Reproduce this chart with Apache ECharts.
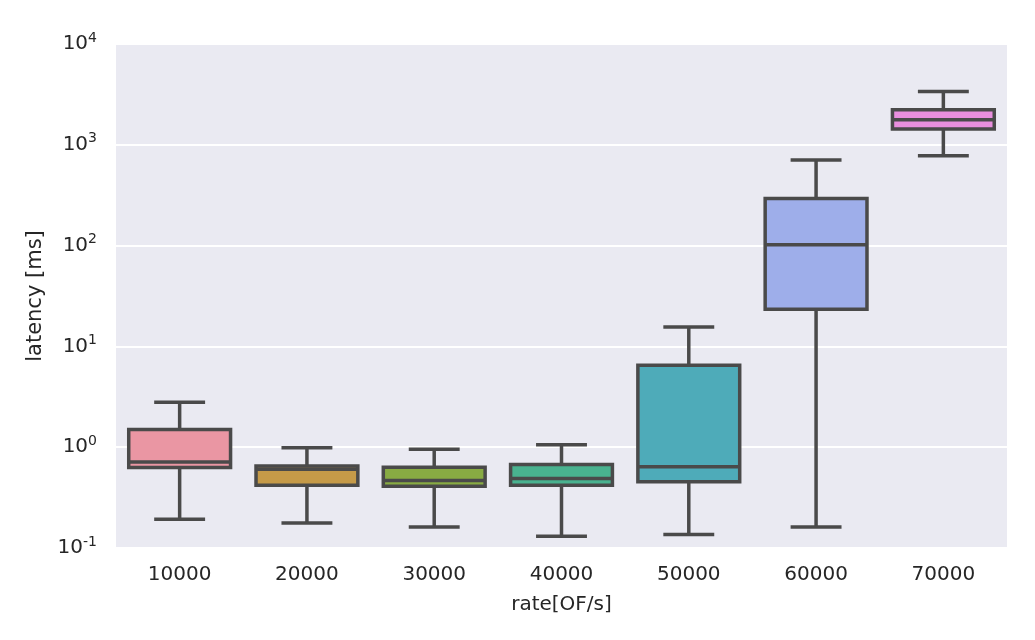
<!DOCTYPE html>
<html>
<head>
<meta charset="utf-8">
<script src="https://cdn.jsdelivr.net/npm/echarts@6/dist/echarts.min.js"></script>
<style>
  html, body { margin: 0; padding: 0; background: #fff; }
  #main { width: 1035px; height: 640px; }
</style>
</head>
<body>
<div id="main"></div>
<script>
const categories = ['10000', '20000', '30000', '40000', '50000', '60000', '70000'];
const whiskerLow = [0.193, 0.177, 0.162, 0.131, 0.136, 0.162, 780];
const q1 = [0.629, 0.42, 0.41, 0.42, 0.453, 23.3, 1438];
const median = [0.715, 0.605, 0.467, 0.489, 0.638, 102, 1770];
const q3 = [1.50, 0.65, 0.634, 0.673, 6.5, 294, 2230];
const whiskerHigh = [2.79, 0.99, 0.955, 1.06, 15.6, 705, 3373];
const yTicks = [-1, 0, 1, 2, 3, 4];

const palette = ['#ea96a3', '#c59a48', '#88ab43', '#49b28f', '#4eabb9', '#9eaeea', '#e98fde'];
const edge = '#4a4a4a';

const chart = echarts.init(document.getElementById('main'));

const boxData = categories.map((c, i) => [i, whiskerLow[i], q1[i], median[i], q3[i], whiskerHigh[i]]);

function renderBox(params, api) {
  const i = api.value(0);
  const band = api.size([1, 0])[0];
  const half = band * 0.4;
  const cap = band * 0.2;
  const pLow = api.coord([i, api.value(1)]);
  const pQ1 = api.coord([i, api.value(2)]);
  const pMed = api.coord([i, api.value(3)]);
  const pQ3 = api.coord([i, api.value(4)]);
  const pHigh = api.coord([i, api.value(5)]);
  const x = pMed[0];
  const lineStyle = { stroke: edge, lineWidth: 3.5, fill: null };
  return {
    type: 'group',
    children: [
      { type: 'line', shape: { x1: x, y1: pQ1[1], x2: x, y2: pLow[1] }, style: lineStyle },
      { type: 'line', shape: { x1: x, y1: pQ3[1], x2: x, y2: pHigh[1] }, style: lineStyle },
      { type: 'line', shape: { x1: x - cap, y1: pLow[1], x2: x + cap, y2: pLow[1] }, style: lineStyle },
      { type: 'line', shape: { x1: x - cap, y1: pHigh[1], x2: x + cap, y2: pHigh[1] }, style: lineStyle },
      {
        type: 'rect',
        shape: { x: x - half, y: pQ3[1], width: half * 2, height: pQ1[1] - pQ3[1] },
        style: { fill: palette[i], stroke: edge, lineWidth: 3.5 }
      },
      { type: 'line', shape: { x1: x - half, y1: pMed[1], x2: x + half, y2: pMed[1] }, style: lineStyle }
    ]
  };
}

const option = {
  animation: false,
  backgroundColor: '#fff',
  textStyle: { fontFamily: 'DejaVu Sans' },
  grid: {
    left: 116, right: 28, top: 44, bottom: 92,
    show: true, backgroundColor: '#eaeaf2', borderWidth: 0
  },
  xAxis: {
    type: 'category',
    data: categories,
    name: 'rate[OF/s]',
    nameLocation: 'middle',
    nameGap: 47,
    nameTextStyle: { fontSize: 20, color: '#262626', fontFamily: 'DejaVu Sans' },
    axisLine: { show: false },
    axisTick: { show: false },
    splitLine: { show: false },
    axisLabel: { fontSize: 20, color: '#262626', margin: 17, fontFamily: 'DejaVu Sans' }
  },
  yAxis: {
    type: 'log',
    logBase: 10,
    min: 0.1,
    max: 10000,
    name: 'latency [ms]',
    nameLocation: 'middle',
    nameGap: 70,
    nameTextStyle: { fontSize: 21, color: '#262626', fontFamily: 'DejaVu Sans' },
    axisLine: { show: false },
    axisTick: { show: false },
    splitLine: { show: true, lineStyle: { color: '#ffffff', width: 2 } },
    axisLabel: {
      margin: 19,
      color: '#262626',
      formatter: function (v) {
        const e = Math.round(Math.log10(v));
        return yTicks.indexOf(e) >= 0 ? '{b|10}{s|' + e + '}' : '';
      },
      rich: {
        b: { fontSize: 20, color: '#262626', lineHeight: 26, fontFamily: 'DejaVu Sans' },
        s: { fontSize: 14, color: '#262626', verticalAlign: 'top', lineHeight: 14, fontFamily: 'DejaVu Sans' }
      }
    }
  },
  series: [{
    type: 'custom',
    renderItem: renderBox,
    encode: { x: 0, y: [1, 2, 3, 4, 5] },
    data: boxData
  }]
};

chart.setOption(option);
</script>
</body>
</html>
